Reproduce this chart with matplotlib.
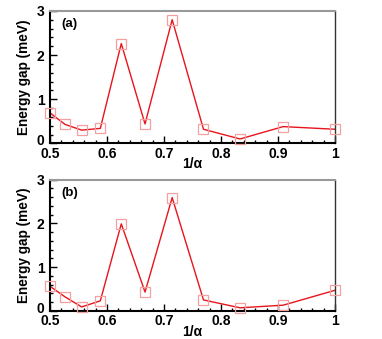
import numpy as np
import matplotlib
matplotlib.use("Agg")
import matplotlib.pyplot as plt
from matplotlib.ticker import MultipleLocator
from matplotlib.transforms import ScaledTranslation

# 1/alpha values
inv_alpha = [1/2.0, 1/1.9, 1/1.8, 1/1.7, 1/1.6, 1/1.5, 1/1.4, 1/1.3, 1/1.2, 1/1.1, 1/1.0]
gap_a = [0.69, 0.43, 0.30, 0.34, 2.26, 0.44, 2.80, 0.32, 0.10, 0.38, 0.32]
gap_b = [0.56, 0.32, 0.09, 0.23, 1.99, 0.43, 2.59, 0.25, 0.07, 0.13, 0.47]
panel_labels = ["(a)", "(b)"]
xtick_vals = [0.5, 0.6, 0.7, 0.8, 0.9, 1.0]
xtick_text = ["0.5", "0.6", "0.7", "0.8", "0.9", "1"]
ytick_vals = [0, 1, 2, 3]

plt.rcParams['font.family'] = ['Liberation Sans', 'DejaVu Sans']

fig = plt.figure(figsize=(3.82, 3.39), dpi=100)
boxes = [[0.131, 0.577, 0.746, 0.391], [0.131, 0.083, 0.746, 0.387]]

for box, gap, lab in zip(boxes, [gap_a, gap_b], panel_labels):
    ax = fig.add_axes(box)
    ax.plot(inv_alpha, gap, color="#e8141c", lw=1.0, zorder=2)
    ax.plot(inv_alpha, gap, ls="none", marker="s", ms=6.5, mfc="none",
            mec="#f4a0a0", mew=0.9, zorder=3, clip_on=False)
    ax.set_xlim(0.5, 1.0)
    ax.set_ylim(0, 3)
    ax.xaxis.set_minor_locator(MultipleLocator(0.02))
    ax.yaxis.set_minor_locator(MultipleLocator(0.2))
    ax.set_xticks(xtick_vals)
    ax.set_xticklabels(xtick_text)
    # the "0" is drawn by hand below, nudged up so it clears the "0.5"
    ax.set_yticks(ytick_vals)
    ax.set_yticklabels([""] + [str(v) for v in ytick_vals[1:]])
    ax.tick_params(which="both", direction="in", top=False, right=False,
                   labelsize=10, width=1.0)
    ax.tick_params(axis="x", pad=2.5)
    ax.tick_params(axis="y", pad=4)
    ax.tick_params(which="major", length=5)
    ax.tick_params(which="minor", length=2.5)
    for t in ax.get_xticklabels() + ax.get_yticklabels():
        t.set_fontweight("bold")
    off = ax.get_yaxis_transform() + ScaledTranslation(-4.5 / 72, 2.5 / 72, fig.dpi_scale_trans)
    ax.text(0, ytick_vals[0], str(ytick_vals[0]), transform=off, ha="right",
            va="center_baseline", fontsize=10, fontweight="bold")
    for s in ["left", "bottom"]:
        ax.spines[s].set_linewidth(1.5)
        ax.spines[s].set_color("black")
    ax.spines["top"].set_color("#999999")
    ax.spines["top"].set_linewidth(1.5)
    ax.spines["right"].set_color("#333333")
    ax.spines["right"].set_linewidth(1.0)
    ax.set_ylabel("Energy gap (meV)", fontsize=9.8, fontweight="bold", labelpad=4)
    ax.set_xlabel("1/α", fontsize=10, fontweight="bold", labelpad=-2.5)
    ax.text(0.04, 0.9, lab, transform=ax.transAxes, fontsize=9.5,
            fontweight="bold", va="center", ha="left")

fig.savefig("out.png", dpi=100)
